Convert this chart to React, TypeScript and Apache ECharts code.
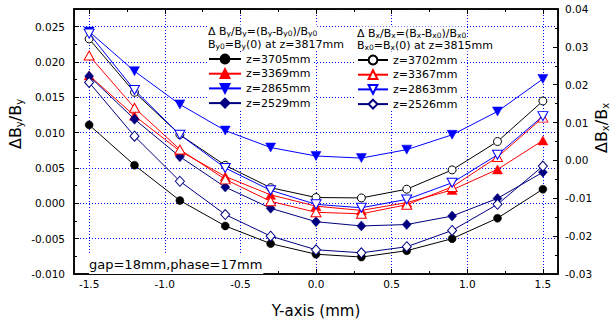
import React, { useEffect, useRef } from 'react';
import * as echarts from 'echarts';

// ---------- data ----------
const xValues = [-1.5, -1.2, -0.9, -0.6, -0.3, 0, 0.3, 0.6, 0.9, 1.2, 1.5];

// ΔBy/By (left axis)
const by3705 = [0.0111, 0.0054, 0.0004, -0.0032, -0.0057, -0.0072, -0.0076, -0.0067, -0.0050, -0.0021, 0.0020];
const by3369 = [0.0181, 0.0124, 0.0074, 0.0038, 0.0012, -0.0004, -0.0010, 0.0001, 0.0019, 0.0048, 0.0089];
const by2865 = [0.0243, 0.0187, 0.0140, 0.0103, 0.0079, 0.0067, 0.0064, 0.0076, 0.0097, 0.0130, 0.0176];
const by2529 = [0.0180, 0.0119, 0.0066, 0.0023, -0.0007, -0.0026, -0.0032, -0.0030, -0.0018, 0.0007, 0.0044];

// ΔBx/Bx (right axis)
const bx3702 = [0.0321, 0.0180, 0.0068, -0.0013, -0.0072, -0.0098, -0.0099, -0.0076, -0.0025, 0.0050, 0.0157];
const bx3367 = [0.0277, 0.0139, 0.0029, -0.0050, -0.0108, -0.0137, -0.0141, -0.0117, -0.0070, 0.0009, 0.0113];
const bx2863 = [0.0335, 0.0186, 0.0068, -0.0020, -0.0079, -0.0116, -0.0125, -0.0103, -0.0059, 0.0015, 0.0117];
const bx2526 = [0.0206, 0.0064, -0.0055, -0.0143, -0.0200, -0.0236, -0.0244, -0.0228, -0.0185, -0.0116, -0.0015];

const byNames = ['z=3705mm', 'z=3369mm', 'z=2865mm', 'z=2529mm'];
const bxNames = ['z=3702mm', 'z=3367mm', 'z=2863mm', 'z=2526mm'];

const FONT = 'DejaVu Sans';
const BLUE = '#0000ff';
const NAVY = '#000080';

type Def = { name: string; data: number[]; axis: number; symbol: string; size: number | number[]; color: string; filled: boolean; rotate: number };

const defs: Def[] = [
  { name: byNames[0], data: by3705, axis: 0, symbol: 'circle', size: 8, color: '#000000', filled: true, rotate: 0 },
  { name: byNames[1], data: by3369, axis: 0, symbol: 'triangle', size: [10, 9], color: '#ff0000', filled: true, rotate: 0 },
  { name: byNames[2], data: by2865, axis: 0, symbol: 'triangle', size: [10, 9], color: BLUE, filled: true, rotate: 180 },
  { name: byNames[3], data: by2529, axis: 0, symbol: 'diamond', size: [9, 10], color: NAVY, filled: true, rotate: 0 },
  { name: bxNames[0], data: bx3702, axis: 2, symbol: 'circle', size: 8, color: '#000000', filled: false, rotate: 0 },
  { name: bxNames[1], data: bx3367, axis: 2, symbol: 'triangle', size: [10, 9], color: '#ff0000', filled: false, rotate: 0 },
  { name: bxNames[2], data: bx2863, axis: 2, symbol: 'triangle', size: [10, 9], color: BLUE, filled: false, rotate: 180 },
  { name: bxNames[3], data: bx2526, axis: 2, symbol: 'diamond', size: [9, 10], color: NAVY, filled: false, rotate: 0 },
];

const axisLine = { onZero: false, lineStyle: { color: '#000', width: 1.5 } };
const tickMajor = { show: true, inside: true, length: 5, lineStyle: { color: '#000', width: 1 } };
const tickMinor = { show: true, inside: true, length: 3, lineStyle: { color: '#000', width: 1 } };
const gridLine = { show: true, lineStyle: { color: BLUE, type: [1, 2] as number[], width: 1 } };
const labelStyle = { fontFamily: FONT, fontSize: 10.5, color: '#000' };

function titleRich(main: number, sub: number, lh: number, subLh: number) {
  return {
    n: { fontFamily: FONT, fontSize: main, lineHeight: lh, color: '#000' },
    s: { fontFamily: FONT, fontSize: sub, lineHeight: subLh, verticalAlign: 'bottom', color: '#000' },
  };
}

function textEl(x: number, y: number, text: string, rich: any, opts: any = {}) {
  return {
    type: 'text',
    x,
    y,
    z: 100,
    rotation: opts.rotation || 0,
    style: {
      text,
      rich,
      fill: '#000',
      fontFamily: FONT,
      fontSize: 11,
      align: opts.align || 'left',
      textAlign: opts.align || 'left',
      verticalAlign: 'middle',
      textVerticalAlign: 'middle',
      backgroundColor: opts.bg,
      textBackgroundColor: opts.bg,
      padding: opts.padding,
      textPadding: opts.padding,
    },
  };
}

export default function App() {
  const ref = useRef<HTMLDivElement>(null);
  useEffect(() => {
    const chart = echarts.init(ref.current!, null, { renderer: 'svg' });

    const xBase = { type: 'value', min: -1.6, max: 1.6, axisLine, splitLine: { show: false }, axisLabel: { show: false } };
    const yLeftBase = { type: 'value', position: 'left', min: -0.01, max: 0.0275, axisLine, splitLine: { show: false }, axisLabel: { show: false } };
    const yRightBase = { type: 'value', position: 'right', min: -0.03, max: 0.04, axisLine, splitLine: { show: false }, axisLabel: { show: false } };

    const series = defs.map((d, i) => ({
      type: 'line',
      name: d.name,
      xAxisIndex: 0,
      yAxisIndex: d.axis,
      data: xValues.map((x, k) => [x, d.data[k]]),
      symbol: d.symbol,
      symbolSize: d.size,
      symbolRotate: d.rotate,
      showSymbol: true,
      color: d.color,
      lineStyle: { color: d.color, width: 1 },
      itemStyle: d.filled
        ? { color: d.color, borderColor: d.color, borderWidth: 0.5 }
        : { color: '#ffffff', borderColor: d.color, borderWidth: 1 },
      emphasis: { disabled: true },
      z: 3 + i,
    }));

    const smallRich = titleRich(11, 7.5, 13, 8);
    const nameRich = titleRich(16, 10, 19, 10);

    const legendBase = {
      orient: 'vertical',
      itemHeight: 11,
      itemGap: 3.7,
      selectedMode: false,
      backgroundColor: '#fff',
      padding: [1, 3, 1, 1],
      textStyle: { fontFamily: FONT, fontSize: 11, color: '#000', lineHeight: 11 },
    };

    chart.setOption({
      animation: false,
      backgroundColor: '#ffffff',
      grid: { left: 74, right: 58, top: 9, bottom: 47, containLabel: false },
      xAxis: [
        {
          ...xBase,
          position: 'bottom',
          minInterval: 0.5,
          maxInterval: 0.5,
          axisTick: tickMajor,
          splitLine: gridLine,
          axisLabel: {
            show: true,
            ...labelStyle,
            margin: 4,
            formatter: (v: number) => (Math.abs(v) > 1.55 ? '' : v.toFixed(1)),
          },
          name: 'Y-axis (mm)',
          nameLocation: 'middle',
          nameGap: 29,
          nameTextStyle: { fontFamily: FONT, fontSize: 15, color: '#000' },
        },
        { ...xBase, position: 'bottom', minInterval: 0.25, maxInterval: 0.25, axisTick: tickMinor },
        { ...xBase, position: 'top', minInterval: 0.5, maxInterval: 0.5, axisTick: tickMajor },
        { ...xBase, position: 'top', minInterval: 0.25, maxInterval: 0.25, axisTick: tickMinor },
      ],
      yAxis: [
        {
          ...yLeftBase,
          interval: 0.005,
          axisTick: tickMajor,
          splitLine: gridLine,
          axisLabel: {
            show: true,
            ...labelStyle,
            margin: 9,
            formatter: (v: number) => (v > 0.026 ? '' : v.toFixed(3)),
          },
        },
        { ...yLeftBase, interval: 0.0025, axisTick: tickMinor },
        {
          ...yRightBase,
          interval: 0.01,
          axisTick: tickMajor,
          axisLabel: { show: true, ...labelStyle, margin: 7, formatter: (v: number) => v.toFixed(2) },
        },
        { ...yRightBase, interval: 0.005, axisTick: tickMinor },
      ],
      legend: [
        { ...legendBase, data: byNames, left: 207, top: 52.5, itemWidth: 32 },
        { ...legendBase, data: bxNames, left: 356, top: 53.5, itemWidth: 30 },
      ],
      graphic: [
        textEl(208, 31, '{n|Δ B}{s|y}{n|/B}{s|y}{n|=(B}{s|y}{n|-B}{s|y0}{n|)/B}{s|y0}', smallRich, { bg: '#fff' }),
        textEl(208, 44, '{n|B}{s|y0}{n|=B}{s|y}{n|(0) at z=3817mm}', smallRich, { bg: '#fff' }),
        textEl(357, 33, '{n|Δ B}{s|x}{n|/B}{s|x}{n|=(B}{s|x}{n|-B}{s|x0}{n|)/B}{s|x0}', smallRich, { bg: '#fff' }),
        textEl(357, 45, '{n|B}{s|x0}{n|=B}{s|x}{n|(0) at z=3815mm}', smallRich, { bg: '#fff' }),
        textEl(15, 124, '{n|ΔB}{s|y}{n|/B}{s|y}', nameRich, { align: 'center', rotation: Math.PI / 2 }),
        textEl(601, 128, '{n|ΔB}{s|x}{n|/B}{s|x}', nameRich, { align: 'center', rotation: Math.PI / 2 }),
        textEl(89, 264, '{a|gap=18mm,phase=17mm}', { a: { fontFamily: FONT, fontSize: 13, lineHeight: 16, color: '#000' } }, { bg: '#fff', padding: [2, 1, 2, 0] }),
      ],
      series,
    });

    return () => chart.dispose();
  }, []);

  return <div ref={ref} style={{ position: 'fixed', left: 0, top: 0, width: 616, height: 323 }} />;
}
